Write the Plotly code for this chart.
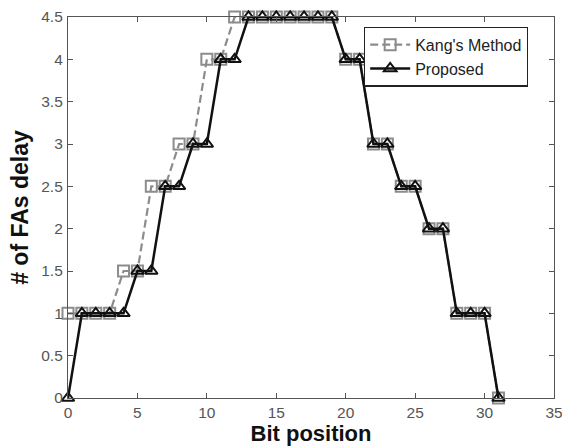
import plotly.graph_objects as go

bit_position = list(range(32))
kang_method = [1, 1, 1, 1, 1.5, 1.5, 2.5, 2.5, 3, 3, 4, 4,
               4.5, 4.5, 4.5, 4.5, 4.5, 4.5, 4.5, 4.5,
               4, 4, 3, 3, 2.5, 2.5, 2, 2, 1, 1, 1, 0]
proposed = [0, 1, 1, 1, 1, 1.5, 1.5, 2.5, 2.5, 3, 3, 4, 4,
            4.5, 4.5, 4.5, 4.5, 4.5, 4.5, 4.5,
            4, 4, 3, 3, 2.5, 2.5, 2, 2, 1, 1, 1, 0]

x_ticks = [0, 5, 10, 15, 20, 25, 30, 35]
y_ticks = [0, 0.5, 1, 1.5, 2, 2.5, 3, 3.5, 4, 4.5]

fig = go.Figure()
fig.add_trace(go.Scatter(
    x=bit_position, y=kang_method, name="Kang's Method",
    mode="lines+markers",
    line=dict(color="#8c8c8c", width=2.2, dash="8px,4px"),
    marker=dict(symbol="square-open", size=11, color="#8c8c8c", line=dict(width=2)),
    cliponaxis=False,
))
fig.add_trace(go.Scatter(
    x=bit_position, y=proposed, name="Proposed",
    mode="lines+markers",
    line=dict(color="#111111", width=2.5),
    marker=dict(symbol="triangle-up-open", size=11, color="#111111", line=dict(width=2)),
    cliponaxis=False,
))

axis_common = dict(
    showgrid=False, zeroline=False, showline=True, linecolor="#555555", linewidth=1.2,
    mirror="ticks", ticks="inside", ticklen=5, tickcolor="#555555", automargin=False,
    ticklabeloverflow="allow",
    tickfont=dict(family="Liberation Sans, Arial", size=15.5, color="#555555"),
)

fig.update_layout(
    width=562, height=447,
    margin=dict(l=68, r=8, t=17, b=49),
    paper_bgcolor="white", plot_bgcolor="white",
    xaxis=dict(range=[0, 35], tickvals=x_ticks,
               title=dict(text="<b>Bit position</b>", standoff=4,
                          font=dict(family="Liberation Sans, Arial", size=22, color="#111111")),
               **axis_common),
    yaxis=dict(range=[0, 4.5], tickvals=y_ticks, ticktext=[("%g" % v) for v in y_ticks],
               title=dict(text="<b># of FAs delay</b>", standoff=6,
                          font=dict(family="Liberation Sans, Arial", size=23, color="#111111")),
               ticklabelstandoff=1,
               **axis_common),
    legend=dict(x=0.609, y=0.975, xanchor="left", yanchor="top",
                bgcolor="white", bordercolor="#222222", borderwidth=1.2,
                font=dict(family="Liberation Sans, Arial", size=16, color="#222222"),
                tracegroupgap=0, itemwidth=40),
    showlegend=True,
)

# remove the page's default body margin so the figure sits at the window's top-left corner
fig.write_html("out.html",
               config={"displayModeBar": False},
               post_script="document.body.style.margin='0px';document.body.style.overflow='hidden';")
